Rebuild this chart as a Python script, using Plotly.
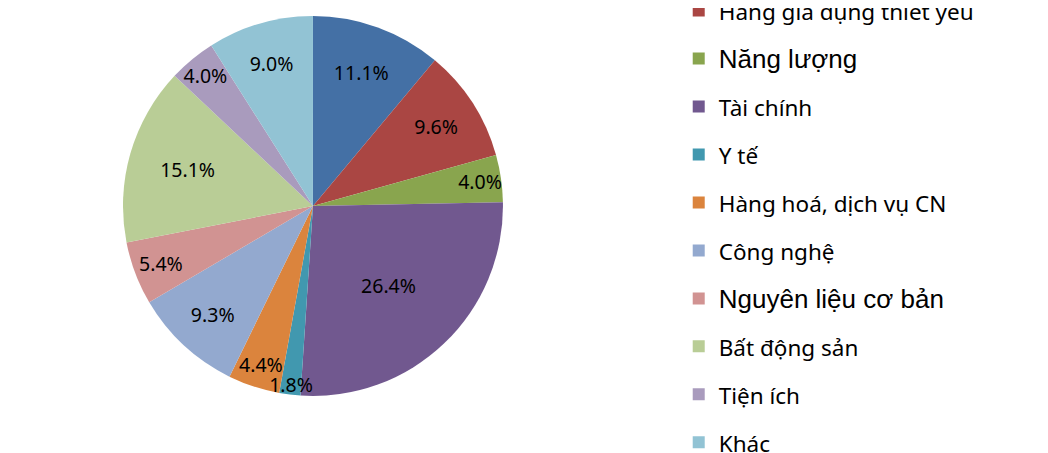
import plotly.graph_objects as go

labels = [
    "Hàng tiêu dùng không thiết yếu",
    "Hàng gia dụng thiết yếu",
    "Năng lượng",
    "Tài chính",
    "Y tế",
    "Hàng hoá, dịch vụ CN",
    "Công nghệ",
    "Nguyên liệu cơ bản",
    "Bất động sản",
    "Tiện ích",
    "Khác",
]
values = [11.1, 9.6, 4.0, 26.4, 1.8, 4.4, 9.3, 5.4, 15.1, 4.0, 9.0]
colors = [
    "#4470A5", "#AA4643", "#89A54E", "#71588F", "#4198AF", "#DB843D",
    "#93A9CF", "#D19392", "#B9CD96", "#A99BBD", "#92C3D4",
]

# legend text styling (two entries in the source use a different typeface)
default_style = "font-family:'Noto Sans';font-size:22.5px;baseline-shift:4px"
alt_style = "font-family:'Liberation Sans';font-size:26px;baseline-shift:4px"
alt_font_labels = {"Năng lượng", "Nguyên liệu cơ bản"}
legend_labels = [
    '<span style="%s">%s</span>' % (alt_style if l in alt_font_labels else default_style, l)
    for l in labels
]
domain = dict(x=[0.1097, 0.4723], y=[0.1435, 0.9823])

fig = go.Figure()
# slices + legend
fig.add_trace(
    go.Pie(
        labels=legend_labels,
        values=values,
        sort=False,
        direction="clockwise",
        rotation=0,
        marker=dict(colors=colors, line=dict(width=0)),
        textinfo="none",
        hoverinfo="label+value",
        domain=domain,
    )
)
# percentage labels drawn on top of all slices
fig.add_trace(
    go.Pie(
        labels=legend_labels,
        values=values,
        sort=False,
        direction="clockwise",
        rotation=0,
        marker=dict(colors=["rgba(0,0,0,0)"] * len(values), line=dict(width=0)),
        texttemplate="%{value:.1f}%",
        textposition="inside",
        insidetextorientation="horizontal",
        textfont=dict(family="Noto Sans", size=19.5, color="#000000"),
        hoverinfo="skip",
        showlegend=False,
        domain=domain,
    )
)

fig.update_layout(
    width=1048,
    height=453,
    margin=dict(l=0, r=0, t=0, b=0, autoexpand=False),
    paper_bgcolor="#FFFFFF",
    plot_bgcolor="#FFFFFF",
    uniformtext=dict(minsize=19.5, mode="show"),
    legend=dict(
        x=0.640,
        xanchor="left",
        y=1.1644,
        yanchor="top",
        maxheight=1000,
        font=dict(family="Noto Sans", size=34.6, color="#000000"),
        bgcolor="rgba(0,0,0,0)",
    ),
)

fig.write_html("out.html")
